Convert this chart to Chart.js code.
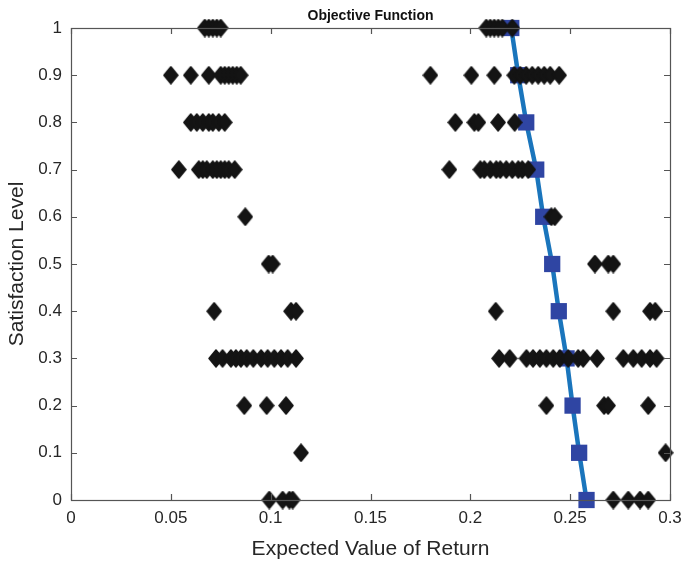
<!DOCTYPE html>
<html>
<head>
<meta charset="utf-8">
<title>Objective Function</title>
<script src="https://cdn.jsdelivr.net/npm/chart.js@4/dist/chart.umd.min.js"></script>
<style>
  html, body { margin: 0; padding: 0; background: #fff; }
  #wrap { width: 687px; height: 562px; position: relative; }
</style>
</head>
<body>
<div id="wrap"><canvas id="objChart"></canvas></div>
<script>
// ── Data ────────────────────────────────────────────────────────
const levels = [1, 0.9, 0.8, 0.7, 0.6, 0.5, 0.4, 0.3, 0.2, 0.1, 0];

// expected return of each candidate portfolio, one list per satisfaction level
const returnsAtLevel = [
  [0.067, 0.069, 0.071, 0.073, 0.075, 0.208, 0.210, 0.212, 0.214, 0.216, 0.221],
  [0.050, 0.060, 0.069, 0.075, 0.077, 0.079, 0.081, 0.083, 0.085,
   0.180, 0.2005, 0.212, 0.222, 0.225, 0.228, 0.231, 0.234, 0.237, 0.240, 0.2445],
  [0.060, 0.063, 0.066, 0.069, 0.071, 0.074, 0.077, 0.1925, 0.202, 0.204, 0.2139, 0.2222],
  [0.054, 0.064, 0.066, 0.068, 0.071, 0.073, 0.075, 0.077, 0.079, 0.082,
   0.1895, 0.205, 0.207, 0.210, 0.213, 0.215, 0.218, 0.221, 0.224, 0.226, 0.229],
  [0.0873, 0.2406, 0.2423],
  [0.099, 0.101, 0.2624, 0.2691, 0.2716],
  [0.0717, 0.1102, 0.1127, 0.2127, 0.2716, 0.290, 0.2926],
  [0.0726, 0.0759, 0.0801, 0.0826, 0.0851, 0.088, 0.0913, 0.0952, 0.0985, 0.1018, 0.1052, 0.1085, 0.1127,
   0.2144, 0.2197, 0.2281, 0.2314, 0.2348, 0.2381, 0.2415, 0.2448, 0.249, 0.254, 0.2565, 0.2635,
   0.2766, 0.2816, 0.2858, 0.290, 0.2933],
  [0.0868, 0.098, 0.1077, 0.2381, 0.267, 0.269, 0.2891],
  [0.1152, 0.2978],
  [0.0993, 0.106, 0.1094, 0.111, 0.2716, 0.2791, 0.285, 0.2891]
];

// optimal (frontier) return at each satisfaction level
const frontierX = [0.2205, 0.224, 0.228, 0.233, 0.2365, 0.241, 0.2443, 0.2482, 0.2512, 0.2545, 0.2582];

const xTicks = [0, 0.05, 0.1, 0.15, 0.2, 0.25, 0.3];
const yTicks = [0, 0.1, 0.2, 0.3, 0.4, 0.5, 0.6, 0.7, 0.8, 0.9, 1];

// ── Build datasets ───────────────────────────────────────────────
const candidatePts = [];
levels.forEach((lv, i) => {
  returnsAtLevel[i].forEach(x => candidatePts.push({ x: x, y: lv }));
});
const frontierPts = levels.map((lv, i) => ({ x: frontierX[i], y: lv }));

// diamond marker, a bit taller than wide like the MATLAB one
function makeDiamond(w, h, color) {
  const c = document.createElement('canvas');
  c.width = w; c.height = h;
  const g = c.getContext('2d');
  g.fillStyle = color;
  g.strokeStyle = color;
  g.lineWidth = 1.5;
  g.lineJoin = 'round';
  g.beginPath();
  g.moveTo(w / 2, 1);
  g.lineTo(w - 1, h / 2);
  g.lineTo(w / 2, h - 1);
  g.lineTo(1, h / 2);
  g.closePath();
  g.fill();
  g.stroke();
  return c;
}
const diamond = makeDiamond(16, 19, '#141414');

const FONT = 'Arial, "Liberation Sans", Helvetica, sans-serif';

// ── Box + inward ticks like MATLAB axes, plus the title ─────────
const axesBox = {
  id: 'axesBox',
  afterDatasetsDraw(chart) {
    const { ctx, chartArea: a, scales } = chart;
    const len = 6;
    ctx.save();
    ctx.strokeStyle = '#555';
    ctx.lineWidth = 1.2;
    ctx.beginPath();
    xTicks.forEach(v => {
      const px = Math.round(scales.x.getPixelForValue(v)) + 0.5;
      ctx.moveTo(px, a.bottom); ctx.lineTo(px, a.bottom - len);
      ctx.moveTo(px, a.top);    ctx.lineTo(px, a.top + len);
    });
    yTicks.forEach(v => {
      const py = Math.round(scales.y.getPixelForValue(v)) + 0.5;
      ctx.moveTo(a.left, py);  ctx.lineTo(a.left + len, py);
      ctx.moveTo(a.right, py); ctx.lineTo(a.right - len, py);
    });
    ctx.stroke();
    ctx.strokeRect(Math.round(a.left) + 0.5, Math.round(a.top) + 0.5,
                   Math.round(a.right - a.left), Math.round(a.bottom - a.top));

    ctx.fillStyle = '#111';
    ctx.font = 'bold 14px ' + FONT;
    ctx.textAlign = 'center';
    ctx.textBaseline = 'middle';
    ctx.fillText('Objective Function', (a.left + a.right) / 2, 16);
    ctx.restore();
  }
};

const tickFont = { family: FONT, size: 17 };

new Chart(document.getElementById('objChart'), {
  type: 'scatter',
  data: {
    datasets: [
      {
        label: 'Candidates',
        data: candidatePts,
        pointStyle: diamond,
        pointRadius: 8,
        backgroundColor: '#141414',
        clip: false,
        order: 0
      },
      {
        label: 'Optimal',
        data: frontierPts,
        showLine: true,
        borderColor: '#1a75bc',
        borderWidth: 4.5,
        pointStyle: 'rect',
        pointRadius: 11.5,
        pointBackgroundColor: '#2f45a3',
        pointBorderColor: '#2f45a3',
        pointBorderWidth: 0,
        clip: false,
        order: 1
      }
    ]
  },
  options: {
    responsive: true,
    maintainAspectRatio: false,
    animation: false,
    events: [],
    layout: { padding: { left: 0, right: 17, top: 28, bottom: 0 } },
    plugins: {
      legend: { display: false },
      tooltip: { enabled: false },
      title: { display: false }
    },
    scales: {
      x: {
        type: 'linear',
        min: 0, max: 0.3,
        grid: { display: false, drawTicks: false },
        border: { display: false },
        afterBuildTicks: s => { s.ticks = xTicks.map(v => ({ value: v })); },
        afterFit: s => { s.height = 62; s.paddingLeft = 0; s.paddingRight = 0; },
        ticks: {
          color: '#262626', font: tickFont, padding: 8, maxRotation: 0,
          callback: v => String(v)
        },
        title: {
          display: true,
          text: 'Expected Value of Return',
          color: '#262626',
          font: { family: FONT, size: 21 },
          padding: { top: 0, bottom: 0 }
        }
      },
      y: {
        type: 'linear',
        min: 0, max: 1,
        grid: { display: false, drawTicks: false },
        border: { display: false },
        afterBuildTicks: s => { s.ticks = yTicks.map(v => ({ value: v })); },
        afterFit: s => { s.width = 71; s.paddingTop = 0; s.paddingBottom = 0; },
        ticks: {
          color: '#262626', font: tickFont, padding: 9,
          callback: v => String(v)
        },
        title: {
          display: true,
          text: 'Satisfaction Level',
          color: '#262626',
          font: { family: FONT, size: 21 },
          padding: { top: 5, bottom: 0 }
        }
      }
    }
  },
  plugins: [axesBox]
});
</script>
</body>
</html>
